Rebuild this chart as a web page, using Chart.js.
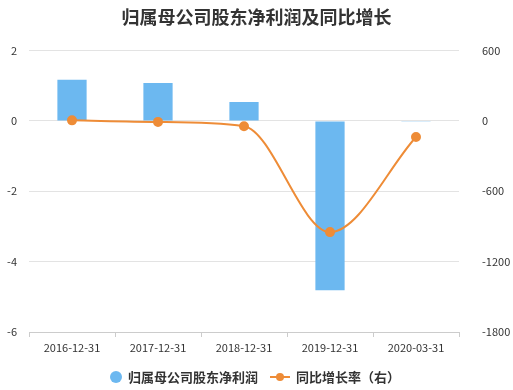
<!DOCTYPE html>
<html lang="zh">
<head>
  <meta charset="UTF-8">
  <title>归属母公司股东净利润及同比增长</title>
  <style>
    html, body { margin: 0; padding: 0; background: #fff; }
    #wrap { width: 513px; height: 390px; position: relative; }
  </style>
</head>
<body>
  <div id="wrap"><canvas id="chart"></canvas></div>

  <script src="https://cdn.jsdelivr.net/npm/chart.js"></script>
  <script>
    const dates = ['2016-12-31', '2017-12-31', '2018-12-31', '2019-12-31', '2020-03-31'];
    const netProfit = [1.17, 1.08, 0.54, -4.81, -0.02];
    const yoyGrowth = [5, -8, -45, -948, -137];
    const leftTicks = [-6, -4, -2, 0, 2];
    const rightTicks = [-1800, -1200, -600, 0, 600];

    const blue = '#6cb8f0';
    const orange = '#ee8c37';
    const font = "'Noto Sans CJK SC', 'DejaVu Sans', sans-serif";

    // legend drawn by hand so the line series gets its line + dot marker
    const legendPlugin = {
      id: 'customLegend',
      afterDraw(chart) {
        const ctx = chart.ctx;
        const y = 377;
        ctx.save();
        ctx.font = 'bold 13px ' + font;
        ctx.textBaseline = 'middle';
        ctx.fillStyle = blue;
        ctx.beginPath();
        ctx.arc(116, y, 6, 0, Math.PI * 2);
        ctx.fill();
        ctx.fillStyle = '#333';
        ctx.fillText('归属母公司股东净利润', 128, y);
        ctx.strokeStyle = orange;
        ctx.lineWidth = 2;
        ctx.beginPath();
        ctx.moveTo(270, y);
        ctx.lineTo(290, y);
        ctx.stroke();
        ctx.fillStyle = orange;
        ctx.beginPath();
        ctx.arc(280, y, 4, 0, Math.PI * 2);
        ctx.fill();
        ctx.fillStyle = '#333';
        ctx.fillText('同比增长率（右）', 296, y);
        ctx.restore();
      }
    };

    new Chart(document.getElementById('chart'), {
      data: {
        labels: dates,
        datasets: [
          {
            type: 'line',
            label: '同比增长率（右）',
            data: yoyGrowth,
            yAxisID: 'y1',
            borderColor: orange,
            backgroundColor: orange,
            borderWidth: 2,
            pointRadius: 4,
            pointHoverRadius: 4,
            cubicInterpolationMode: 'monotone',
            order: 0
          },
          {
            type: 'bar',
            label: '归属母公司股东净利润',
            data: netProfit,
            yAxisID: 'y',
            backgroundColor: blue,
            barPercentage: 0.34,
            categoryPercentage: 1,
            order: 1
          }
        ]
      },
      options: {
        responsive: true,
        maintainAspectRatio: false,
        animation: false,
        layout: { padding: { left: 0, right: 0, top: 0, bottom: 38 } },
        plugins: {
          legend: { display: false },
          tooltip: { enabled: false },
          title: {
            display: true,
            text: '归属母公司股东净利润及同比增长',
            color: '#333',
            font: { family: font, size: 18, weight: 'bold' },
            padding: { top: 6, bottom: 23 }
          }
        },
        scales: {
          x: {
            afterFit: (axis) => { axis.height = 20; },
            grid: { display: true, drawOnChartArea: false, drawTicks: true, tickLength: 5, color: '#ccc', offset: true },
            border: { color: '#ccc' },
            ticks: { color: '#333', font: { family: font, size: 11 }, padding: 4, maxRotation: 0 }
          },
          y: {
            position: 'left',
            min: leftTicks[0],
            max: leftTicks[leftTicks.length - 1],
            afterBuildTicks: (axis) => { axis.ticks = leftTicks.map(v => ({ value: v })); },
            afterFit: (axis) => { axis.width = 29; },
            grid: { color: '#e3e3e3', drawTicks: false },
            border: { display: false },
            ticks: { color: '#333', font: { family: font, size: 11 }, padding: 12 }
          },
          y1: {
            position: 'right',
            min: rightTicks[0],
            max: rightTicks[rightTicks.length - 1],
            afterBuildTicks: (axis) => { axis.ticks = rightTicks.map(v => ({ value: v })); },
            afterFit: (axis) => { axis.width = 54; },
            grid: { display: false, drawOnChartArea: false },
            border: { display: false },
            ticks: { color: '#333', font: { family: font, size: 11 }, padding: 15, callback: (v) => String(v) }
          }
        }
      },
      plugins: [legendPlugin]
    });
  </script>
</body>
</html>
